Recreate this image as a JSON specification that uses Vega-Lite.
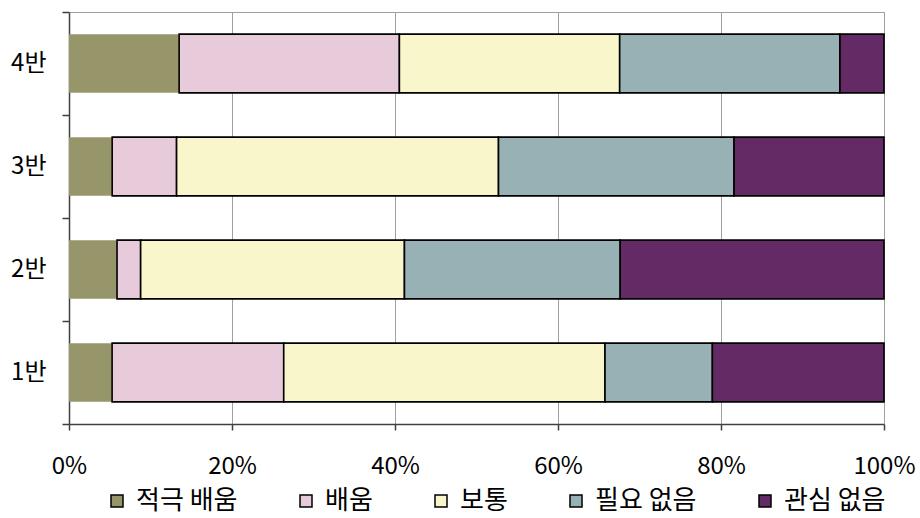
{
  "$schema": "https://vega.github.io/schema/vega-lite/v6.json",
  "autosize": {"type": "none"},
  "width": 815,
  "height": 412,
  "padding": {"left": 69, "top": 12, "right": 36, "bottom": 94},
  "background": "white",
  "config": {
    "font": "Noto Sans CJK KR",
    "view": {"stroke": "#a0a0a0", "strokeWidth": 1}
  },
  "data": {
    "values": [
      {"cls": "4반", "type": "적극 배움", "pct": 13.5},
      {"cls": "4반", "type": "배움", "pct": 27.0},
      {"cls": "4반", "type": "보통", "pct": 27.0},
      {"cls": "4반", "type": "필요 없음", "pct": 27.0},
      {"cls": "4반", "type": "관심 없음", "pct": 5.4},
      {"cls": "3반", "type": "적극 배움", "pct": 5.3},
      {"cls": "3반", "type": "배움", "pct": 7.9},
      {"cls": "3반", "type": "보통", "pct": 39.5},
      {"cls": "3반", "type": "필요 없음", "pct": 28.9},
      {"cls": "3반", "type": "관심 없음", "pct": 18.4},
      {"cls": "2반", "type": "적극 배움", "pct": 5.9},
      {"cls": "2반", "type": "배움", "pct": 2.9},
      {"cls": "2반", "type": "보통", "pct": 32.4},
      {"cls": "2반", "type": "필요 없음", "pct": 26.5},
      {"cls": "2반", "type": "관심 없음", "pct": 32.4},
      {"cls": "1반", "type": "적극 배움", "pct": 5.3},
      {"cls": "1반", "type": "배움", "pct": 21.1},
      {"cls": "1반", "type": "보통", "pct": 39.5},
      {"cls": "1반", "type": "필요 없음", "pct": 13.2},
      {"cls": "1반", "type": "관심 없음", "pct": 21.1}
    ]
  },
  "transform": [
    {"calculate": "indexof(['적극 배움','배움','보통','필요 없음','관심 없음'], datum.type)", "as": "seq"}
  ],
  "mark": {"type": "bar", "stroke": "black", "strokeWidth": 1.6, "height": {"band": 0.57}},
  "encoding": {
    "y": {
      "field": "cls",
      "type": "nominal",
      "sort": ["4반", "3반", "2반", "1반"],
      "scale": {"paddingInner": 0, "paddingOuter": 0},
      "axis": {
        "title": null,
        "labelFontSize": 24,
        "labelColor": "black",
        "labelPadding": 16,
        "tickSize": 7,
        "tickBand": "extent",
        "tickColor": "#404040",
        "tickWidth": 1.5,
        "domainColor": "#404040",
        "domainWidth": 1.5,
        "grid": false
      }
    },
    "x": {
      "field": "pct",
      "type": "quantitative",
      "stack": "normalize",
      "scale": {"domain": [0, 1], "nice": false},
      "axis": {
        "title": null,
        "format": ".0%",
        "values": [0, 0.2, 0.4, 0.6, 0.8, 1],
        "labelFontSize": 24,
        "labelColor": "black",
        "labelPadding": 24,
        "labelFlush": false,
        "tickSize": 6,
        "tickColor": "#404040",
        "tickWidth": 1.5,
        "domainColor": "#404040",
        "domainWidth": 1.5,
        "grid": true,
        "gridColor": "#a0a0a0",
        "gridWidth": 1
      }
    },
    "color": {
      "field": "type",
      "type": "nominal",
      "scale": {
        "domain": ["적극 배움", "배움", "보통", "필요 없음", "관심 없음"],
        "range": ["#97956a", "#e8cbda", "#faf6cc", "#97b1b4", "#632a66"]
      },
      "legend": {
        "title": null,
        "orient": "none",
        "direction": "horizontal",
        "legendX": 35,
        "legendY": 476,
        "padding": 0,
        "symbolType": "square",
        "symbolSize": 144,
        "symbolStrokeColor": "black",
        "symbolStrokeWidth": 1.5,
        "symbolOpacity": 1,
        "labelFontSize": 26,
        "labelColor": "black",
        "labelOffset": 6,
        "columnPadding": 55,
        "labelLimit": 300
      }
    },
    "order": {"field": "seq", "type": "quantitative"},
    "strokeOpacity": {
      "condition": {"test": "datum.type === '적극 배움'", "value": 0},
      "value": 1
    }
  }
}
